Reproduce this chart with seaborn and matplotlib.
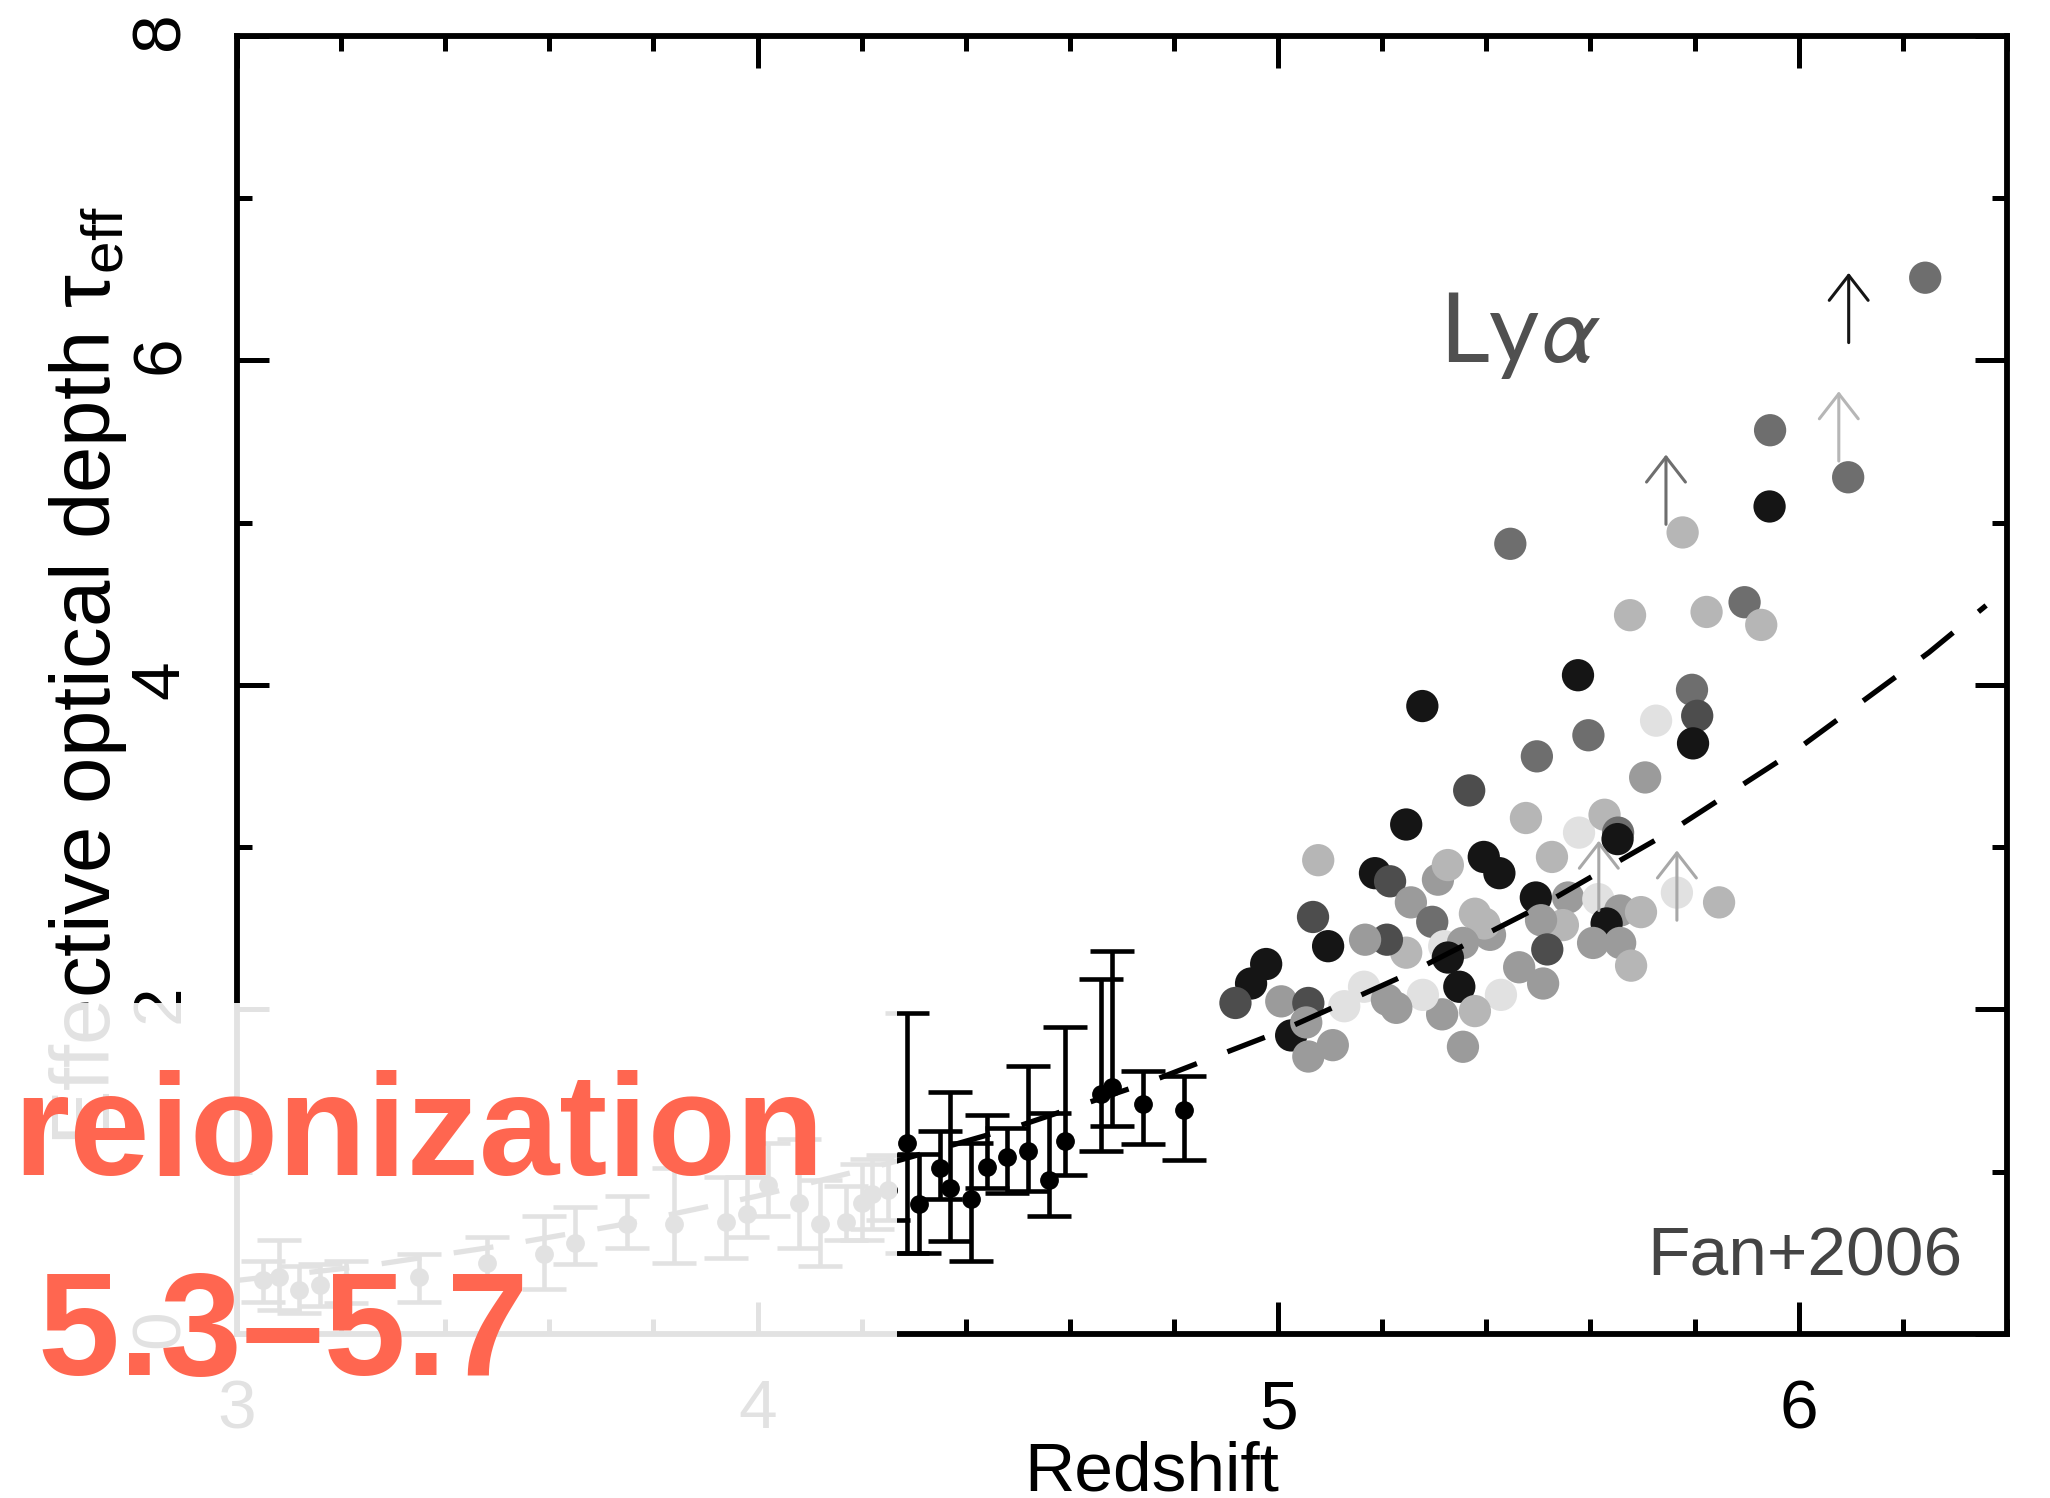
import numpy as np
import pandas as pd
import matplotlib
matplotlib.use("Agg")
import matplotlib.pyplot as plt
import seaborn as sns
from matplotlib.patches import Rectangle
from matplotlib.ticker import MultipleLocator

# ---------------- data ----------------
# quasar sight-line measurements (Lyα effective optical depth), grey shade per source
scatter_z = [6.243, 5.945, 6.095, 5.944, 5.777, 5.446, 5.896, 5.676, 5.823, 5.928,
             5.576, 5.795, 5.805, 5.726, 5.797, 5.596, 5.497, 5.705, 5.277, 5.367,
             5.476, 5.246, 5.077, 5.578, 5.627, 5.653, 5.652, 5.526, 5.186, 5.215,
             5.307, 5.326, 5.395, 5.425, 5.255, 5.067, 5.296, 5.378, 5.495, 5.557,
             5.615, 5.657, 5.697, 5.766, 5.847, 5.547, 5.505, 5.631, 5.605, 5.657,
             5.678, 5.517, 5.509, 5.463, 5.428, 5.407, 5.396, 5.319, 5.355, 5.326,
             5.348, 5.378, 5.315, 5.278, 5.355, 5.246, 5.209, 5.167, 5.096, 4.977,
             4.948, 4.918, 5.006, 5.058, 5.127, 5.165, 5.209, 5.227, 5.025, 5.054,
             5.058, 5.105]
scatter_tau = [6.51, 5.57, 5.28, 5.10, 4.94, 4.87, 4.51, 4.43, 4.45, 4.37,
               4.06, 3.97, 3.81, 3.78, 3.64, 3.69, 3.56, 3.43, 3.87, 3.35,
               3.18, 3.14, 2.92, 3.09, 3.20, 3.09, 3.05, 2.94, 2.84, 2.79,
               2.80, 2.89, 2.94, 2.84, 2.66, 2.57, 2.54, 2.59, 2.69, 2.69,
               2.68, 2.61, 2.60, 2.72, 2.66, 2.52, 2.55, 2.53, 2.41, 2.41,
               2.27, 2.37, 2.16, 2.26, 2.09, 2.46, 2.53, 2.39, 2.41, 2.32,
               2.14, 1.99, 1.97, 2.09, 1.77, 2.35, 2.43, 2.43, 2.39, 2.28,
               2.16, 2.04, 2.05, 2.04, 2.02, 2.14, 2.06, 2.01, 1.84, 1.92,
               1.71, 1.78]
scatter_shade = ["M", "M", "M", "K", "L", "M", "M", "L", "L", "L",
                 "K", "M", "D", "V", "K", "M", "M", "G", "K", "D",
                 "L", "K", "L", "V", "L", "M", "K", "L", "K", "D",
                 "G", "L", "K", "K", "G", "D", "M", "L", "K", "G",
                 "V", "G", "L", "V", "L", "L", "G", "K", "G", "G",
                 "L", "D", "G", "G", "V", "G", "L", "V", "G", "K",
                 "K", "L", "G", "V", "G", "L", "D", "G", "K", "K",
                 "K", "D", "G", "D", "V", "V", "G", "G", "K", "G",
                 "G", "G"]

# lower limits (arrows)
limit_z = [6.096, 6.077, 5.745, 5.616, 5.766]
limit_tau = [6.11, 5.38, 4.99, 2.61, 2.55]
limit_shade = ["K", "L", "M", "A", "A"]

# binned low-redshift measurements with error bars
bin_z = [3.05, 3.08, 3.12, 3.16, 3.21, 3.35, 3.48, 3.59, 3.65, 3.75,
         3.84, 3.94, 3.98, 4.02, 4.08, 4.12, 4.17, 4.20, 4.22, 4.25,
         4.288, 4.31, 4.35, 4.37, 4.41, 4.44, 4.48, 4.52, 4.56, 4.59,
         4.66, 4.68, 4.74, 4.82]
bin_tau = [0.33, 0.35, 0.27, 0.30, 0.32, 0.35, 0.44, 0.49, 0.56, 0.68,
           0.68, 0.69, 0.74, 0.92, 0.81, 0.68, 0.69, 0.81, 0.86, 0.89,
           1.18, 0.80, 1.02, 0.90, 0.83, 1.03, 1.09, 1.13, 0.95, 1.19,
           1.48, 1.52, 1.42, 1.38]
bin_lo = [0.20, 0.15, 0.13, 0.17, 0.19, 0.20, 0.29, 0.28, 0.43, 0.53,
          0.44, 0.47, 0.60, 0.73, 0.53, 0.42, 0.58, 0.58, 0.65, 0.70,
          0.50, 0.50, 0.83, 0.57, 0.45, 0.90, 0.87, 0.88, 0.73, 0.98,
          1.13, 1.28, 1.17, 1.07]
bin_hi = [0.45, 0.58, 0.42, 0.43, 0.45, 0.49, 0.60, 0.73, 0.78, 0.85,
          1.02, 0.97, 0.97, 1.18, 1.20, 0.95, 0.91, 1.05, 1.08, 1.10,
          1.98, 1.11, 1.25, 1.49, 1.18, 1.35, 1.27, 1.65, 1.36, 1.89,
          2.19, 2.36, 1.62, 1.59]

# power-law fit (dashed)
fit_z = [3.0, 3.25, 3.5, 3.75, 4.0, 4.25, 4.5, 4.75, 5.0, 5.25, 5.5, 5.75, 6.0, 6.25, 6.36]
fit_tau = [0.33, 0.42, 0.54, 0.68, 0.85, 1.05, 1.28, 1.55, 1.86, 2.22, 2.63, 3.09, 3.61, 4.20, 4.49]

shade_colors = {"K": "#151515", "D": "#4d4d4d", "M": "#6e6e6e",
                "G": "#9b9b9b", "L": "#b6b6b6", "V": "#e1e1e1", "A": "#a8a8a8"}

# ---------------- style ----------------
sns.set_theme(style="ticks")
plt.rcParams["font.family"] = ["Liberation Sans", "DejaVu Sans"]
plt.rcParams["mathtext.fontset"] = "custom"
plt.rcParams["mathtext.rm"] = "Liberation Sans"
plt.rcParams["mathtext.it"] = "Liberation Sans:italic"

fig = plt.figure(figsize=(20.5, 14.98), dpi=100)
ax = fig.add_axes([0.1156, 0.1095, 0.8634, 0.8665])

df = pd.DataFrame({"z": scatter_z, "tau": scatter_tau, "shade": scatter_shade})
sns.scatterplot(data=df, x="z", y="tau", hue="shade", palette=shade_colors,
                s=540, linewidth=0, legend=False, ax=ax, zorder=3)

sns.lineplot(x=fit_z, y=fit_tau, ax=ax, color="black", lw=3.8,
             ls=(0, (7.6, 6.2)), estimator=None, sort=False, zorder=4)

bz = np.array(bin_z)
bt = np.array(bin_tau)
ax.errorbar(bz, bt, yerr=[bt - np.array(bin_lo), np.array(bin_hi) - bt],
            fmt="o", color="black", ms=12.5, elinewidth=3.3, capsize=16,
            capthick=3.3, zorder=5)

arrow_len = 0.43
for z, t, c in zip(limit_z, limit_tau, limit_shade):
    ax.annotate("", xy=(z, t + arrow_len), xytext=(z, t),
                arrowprops=dict(arrowstyle="->,head_length=0.9,head_width=0.7",
                                color=shade_colors[c], lw=2.2, shrinkA=0, shrinkB=0,
                                mutation_scale=20), zorder=6)

ax.set_xlim(3, 6.4)
ax.set_ylim(0, 8)
ax.xaxis.set_major_locator(MultipleLocator(1))
ax.xaxis.set_minor_locator(MultipleLocator(0.2))
ax.yaxis.set_major_locator(MultipleLocator(2))
ax.yaxis.set_minor_locator(MultipleLocator(1))
ax.tick_params(which="both", direction="in", top=True, right=True,
               width=3.6, color="black", labelsize=50, pad=32, labelcolor="black")
ax.tick_params(which="major", length=23)
ax.tick_params(which="minor", length=11)
ax.tick_params(axis="y", labelrotation=90)
for s in ax.spines.values():
    s.set_linewidth(4.2)
    s.set_color("black")

ax.set_xlabel("Redshift", fontsize=50, color="black")
ax.xaxis.label.set_va("baseline")
ax.xaxis.set_label_coords(0.517, -0.1205)
ax.set_ylabel("Effective optical depth τ$_{\\mathrm{eff}}$", fontsize=60, color="black")
ax.yaxis.label.set_va("baseline")
ax.yaxis.set_label_coords(-0.0717, 0.507)

lya = ax.text(5.309, 5.99, "Ly$\\alpha$", fontsize=70, color="#505050",
              family=["Lato", "DejaVu Sans"], fontweight="normal",
              ha="left", va="baseline")
lya.set_math_fontfamily("stixsans")
ax.text(6.315, 0.36, "Fan+2006", fontsize=50, color="#444444",
        ha="right", va="baseline")

# white veil over the lower-left corner
fig.add_artist(Rectangle((0, 0), 897 / 2050, 1 - 1003 / 1498,
                         transform=fig.transFigure, facecolor="white",
                         edgecolor="none", alpha=0.89, zorder=5))

red = "#FF6650"
fig.text(13 / 2050, 1 - 1175 / 1498, "reionization", fontsize=104,
         fontweight="bold", color=red, ha="left", va="baseline", zorder=10)
fig.text(37 / 2050, 1 - 1375 / 1498, "5.3–5.7", fontsize=106,
         fontweight="bold", color=red, ha="left", va="baseline", zorder=10)

fig.savefig("out.png", dpi=100)
